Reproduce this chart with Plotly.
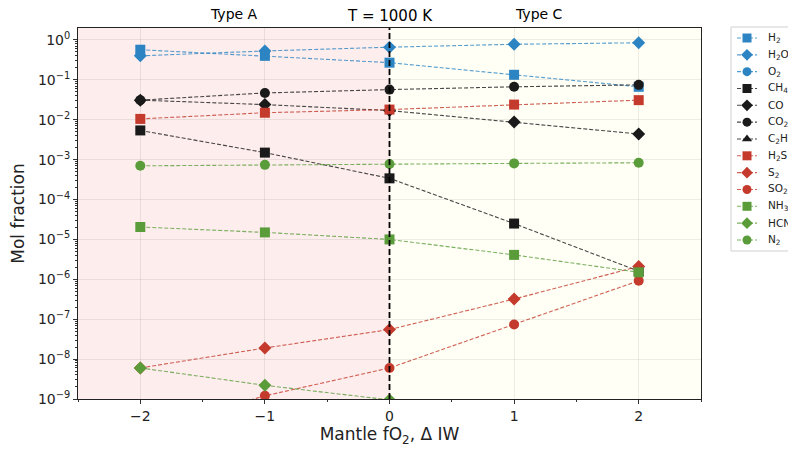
import plotly.graph_objects as go

# Mantle oxygen fugacity relative to the iron-wustite buffer
delta_iw = [-2, -1, 0, 1, 2]

# Mol fractions of atmospheric species at T = 1000 K
h2 = [0.57, 0.40, 0.27, 0.134, 0.067]
h2o = [0.40, 0.53, 0.66, 0.78, 0.85]
o2 = [1e-24, 1e-23, 1e-22, 1e-21, 1e-20]
ch4 = [5.4e-3, 1.5e-3, 3.4e-4, 2.5e-5, 1.6e-6]
co = [0.031, 0.024, 0.017, 0.0088, 0.0044]
co2 = [0.031, 0.047, 0.057, 0.067, 0.075]
c2h6 = [1e-12, 1e-13, 1e-14, 1e-15, 1e-16]
h2s = [0.0105, 0.015, 0.018, 0.024, 0.031]
s2 = [6.0e-9, 1.9e-8, 5.5e-8, 3.2e-7, 2.1e-6]
so2 = [1.6e-10, 1.2e-9, 6.0e-9, 7.4e-8, 9.2e-7]
nh3 = [2.05e-5, 1.5e-5, 1.0e-5, 4.1e-6, 1.5e-6]
hcn = [6.0e-9, 2.2e-9, 9.5e-10, 3e-10, 1e-10]
n2 = [7.0e-4, 7.4e-4, 7.8e-4, 8.05e-4, 8.35e-4]

BLUE = "#2c84c3"
BLACK = "#1a1a1a"
RED = "#c43a2c"
GREEN = "#5a9c3a"

species = [
    ("H<sub>2</sub>", h2, BLUE, "square"),
    ("H<sub>2</sub>O", h2o, BLUE, "diamond"),
    ("O<sub>2</sub>", o2, BLUE, "circle"),
    ("CH<sub>4</sub>", ch4, BLACK, "square"),
    ("CO", co, BLACK, "diamond"),
    ("CO<sub>2</sub>", co2, BLACK, "circle"),
    ("C<sub>2</sub>H<sub>6</sub>", c2h6, BLACK, "triangle-up"),
    ("H<sub>2</sub>S", h2s, RED, "square"),
    ("S<sub>2</sub>", s2, RED, "diamond"),
    ("SO<sub>2</sub>", so2, RED, "circle"),
    ("NH<sub>3</sub>", nh3, GREEN, "square"),
    ("HCN", hcn, GREEN, "diamond"),
    ("N<sub>2</sub>", n2, GREEN, "circle"),
]

FONT = "DejaVu Sans"
W, H = 788, 450
ML, MT, MB = 78, 28, 51
PLOT_RIGHT = 701          # right edge of the main axes, px
LEG_LEFT = 731            # legend frame left edge, px
LEG_TOP, LEG_BOTTOM = 27, 251
ROW0, ROW_STEP = 10.0, 16.83   # legend rows, px below the axes top

paper_w = W - ML
paper_h = H - MT - MB
main_dom = (PLOT_RIGHT - ML) / paper_w
leg_dom0 = (LEG_LEFT + 2 - ML) / paper_w
leg_w = W - (LEG_LEFT + 2)


def faded(hex_color, alpha=0.8):
    h = hex_color.lstrip("#")
    r, g, b = (int(h[i:i + 2], 16) for i in (0, 2, 4))
    return f"rgba({r},{g},{b},{alpha})"


fig = go.Figure()
for name, vals, color, symbol in species:
    fig.add_trace(go.Scatter(
        x=delta_iw, y=vals, name=name, mode="lines+markers",
        line=dict(color=faded(color), width=1.1, dash="4px,2px"),
        marker=dict(symbol=symbol, size=10, color=color, line=dict(width=0)),
        showlegend=False, xaxis="x", yaxis="y",
    ))

# Legend drawn on its own pixel-scaled axes so the rows sit close together
annotations = []
for i, (name, vals, color, symbol) in enumerate(species):
    row = ROW0 + ROW_STEP * i
    fig.add_trace(go.Scatter(
        x=[4, 24], y=[row, row], mode="lines",
        line=dict(color=faded(color), width=1.1, dash="4px,2px"),
        showlegend=False, hoverinfo="skip", xaxis="x2", yaxis="y2",
    ))
    fig.add_trace(go.Scatter(
        x=[14], y=[row], mode="markers",
        marker=dict(symbol=symbol, size=9, color=color, opacity=1,
                    line=dict(width=0)),
        showlegend=False, hoverinfo="skip", xaxis="x2", yaxis="y2",
    ))
    annotations.append(dict(
        text=name, xref="x2", yref="y2", x=33, y=row, xanchor="left",
        yanchor="middle", showarrow=False,
        font=dict(family=FONT, size=10.5, color="#222222"),
    ))

# Background shading for the two mantle types and the boundary at ΔIW = 0
fig.add_shape(type="rect", xref="x", yref="paper", x0=-2.5, x1=0, y0=0, y1=1,
              fillcolor="rgb(253,237,237)", line_width=0, layer="below")
fig.add_shape(type="rect", xref="x", yref="paper", x0=0, x1=2.5, y0=0, y1=1,
              fillcolor="rgb(255,255,246)", line_width=0, layer="below")
fig.add_shape(type="line", xref="x", yref="paper", x0=0, x1=0, y0=0, y1=1,
              line=dict(color="black", width=1.8, dash="6px,3px"))
# Legend frame
fig.add_shape(type="rect", xref="paper", yref="paper",
              x0=(LEG_LEFT - ML) / paper_w, x1=1.05,
              y0=(H - MB - LEG_BOTTOM) / paper_h, y1=(H - MB - LEG_TOP) / paper_h,
              fillcolor="white", line=dict(color="#d0d0d0", width=1), layer="below")

# Decade tick labels and minor ticks on the log axis
y_major = [10.0 ** p for p in range(-9, 1)]
y_text = ["10<sup>%s</sup>" % (str(p).replace("-", "\u2212")) for p in range(-9, 1)]
y_minor = [k * 10.0 ** p for p in range(-9, 1) for k in range(2, 10)]

annotations += [
    dict(text="T = 1000 K", xref="x", yref="paper", x=0, y=1.0,
         xanchor="center", yanchor="bottom", yshift=1, showarrow=False,
         font=dict(size=15, color="black")),
    dict(text="Type A", xref="x", yref="paper", x=-1.25, y=1.0,
         xanchor="center", yanchor="bottom", yshift=4, showarrow=False,
         font=dict(size=14, color="black")),
    dict(text="Type C", xref="x", yref="paper", x=1.2, y=1.0,
         xanchor="center", yanchor="bottom", yshift=4, showarrow=False,
         font=dict(size=14, color="black")),
]

fig.update_layout(
    width=W, height=H,
    margin=dict(l=ML, r=0, t=MT, b=MB, autoexpand=False),
    paper_bgcolor="white", plot_bgcolor="rgba(0,0,0,0)",
    font=dict(family=FONT, color="#222222"),
    showlegend=False,
    xaxis=dict(
        domain=[0, main_dom], anchor="y",
        range=[-2.5, 2.5], tickmode="array", tickvals=[-2, -1, 0, 1, 2],
        ticktext=["\u22122", "\u22121", "0", "1", "2"],
        ticks="outside", ticklen=4, tickcolor="#333333",
        tickfont=dict(size=14),
        minor=dict(tickmode="array", tickvals=[-2.5, -1.5, -0.5, 0.5, 1.5, 2.5],
                   ticks="outside", ticklen=2, tickcolor="#333333", showgrid=False),
        showgrid=True, gridcolor="rgba(0,0,0,0.07)", gridwidth=1,
        showline=True, linecolor="#222222", linewidth=1, mirror=True,
        zeroline=False,
        title=dict(text="Mantle fO<sub>2</sub>, \u0394 IW", font=dict(size=17), standoff=5),
    ),
    yaxis=dict(
        domain=[0, 1], anchor="x",
        type="log", range=[-9, 0.3], tickmode="array", tickvals=y_major,
        ticktext=y_text, ticks="outside", ticklen=4, tickcolor="#333333",
        tickfont=dict(size=14),
        minor=dict(tickmode="array", tickvals=y_minor, ticks="outside",
                   ticklen=2, tickcolor="#333333", showgrid=False),
        showgrid=True, gridcolor="rgba(0,0,0,0.07)", gridwidth=1,
        showline=True, linecolor="#222222", linewidth=1, mirror=True,
        zeroline=False,
        title=dict(text="Mol fraction", font=dict(size=17), standoff=8),
    ),
    xaxis2=dict(domain=[leg_dom0, 1], anchor="y2", range=[0, leg_w],
                visible=False, fixedrange=True),
    yaxis2=dict(domain=[0, 1], anchor="x2", range=[paper_h, 0],
                visible=False, fixedrange=True),
    annotations=annotations,
)

fig.write_html("out.html")
